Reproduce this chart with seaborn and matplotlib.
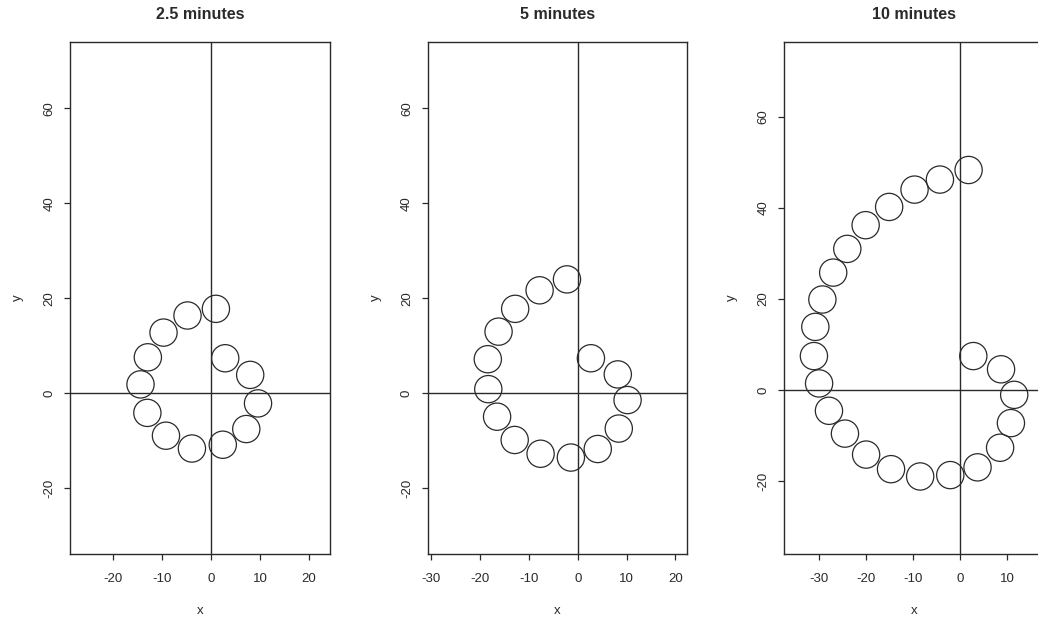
import numpy as np
import matplotlib
matplotlib.use("Agg")
import matplotlib.pyplot as plt
import seaborn as sns

# ---- data ----
titles = ["2.5 minutes", "5 minutes", "10 minutes"]

x_25 = [1.0, -4.8, -9.7, -12.9, -14.4, -13.0, -9.2, -3.9, 2.4, 7.2, 9.6, 8.0, 2.9]
y_25 = [17.8, 16.4, 12.8, 7.6, 1.9, -4.1, -8.9, -11.6, -10.8, -7.5, -2.1, 3.9, 7.4]

x_5 = [-2.2, -7.8, -12.8, -16.2, -18.4, -18.3, -16.5, -12.9, -7.6, -1.4, 4.1, 8.4, 10.2, 8.2, 2.7]
y_5 = [24.0, 21.7, 17.8, 13.0, 7.2, 0.9, -4.9, -9.8, -12.7, -13.5, -11.7, -7.4, -1.4, 4.0, 7.4]

x_10 = [1.8, -4.3, -9.7, -15.1, -20.1, -24.0, -27.0, -29.3, -30.8, -31.1, -30.0, -27.9,
        -24.5, -20.0, -14.7, -8.5, -2.1, 3.7, 8.5, 10.8, 11.5, 8.7, 2.8]
y_10 = [48.3, 46.2, 44.0, 40.2, 36.2, 31.0, 25.8, 19.9, 13.9, 7.5, 1.5, -4.5,
        -9.5, -14.1, -17.3, -18.9, -18.6, -16.9, -12.6, -7.2, -1.0, 4.6, 7.5]

x_ticks = [[-20, -10, 0, 10, 20], [-30, -20, -10, 0, 10, 20], [-30, -20, -10, 0, 10]]
y_ticks = [-20, 0, 20, 40, 60]

xs = [x_25, x_5, x_10]
ys = [y_25, y_5, y_10]
xlims = [(-28.8, 24.3), (-30.7, 22.3), (-37.4, 17.9)]
ylims = [(-33.8, 73.9), (-33.8, 73.9), (-35.9, 76.3)]

# ---- style ----
sns.set_style("white")
plt.rcParams["font.family"] = ["Liberation Sans", "DejaVu Sans"]
ink = "#2a2a2a"

fig = plt.figure(figsize=(10.38, 6.21), dpi=100)
W, H = 1038, 621
lefts = [70, 427.7, 784.3]
rights = [330, 686.7, 1044.3]
top, bottom = 42.3, 554

for i in range(3):
    ax = fig.add_axes([lefts[i] / W, 1 - bottom / H,
                       (rights[i] - lefts[i]) / W, (bottom - top) / H])
    ax.axhline(0, color=ink, lw=1.0, zorder=1)
    ax.axvline(0, color=ink, lw=1.0, zorder=1)
    sns.scatterplot(x=xs[i], y=ys[i], ax=ax, marker="o", s=385,
                    facecolor="none", edgecolor=ink, linewidth=0.9, zorder=3)
    ax.set_xlim(*xlims[i])
    ax.set_ylim(*ylims[i])
    ax.set_xticks(x_ticks[i])
    ax.set_yticks(y_ticks)
    ax.set_xticklabels([str(v) for v in x_ticks[i]])
    ax.set_yticklabels([str(v) for v in y_ticks], rotation=90, va="center")
    ax.tick_params(axis="both", direction="out", length=4.3, width=0.9,
                   color=ink, labelsize=9.5, labelcolor=ink, bottom=True, left=True)
    ax.tick_params(axis="x", pad=9.4)
    ax.tick_params(axis="y", pad=6.3)
    for sp in ax.spines.values():
        sp.set_visible(True)
        sp.set_color(ink)
        sp.set_linewidth(1.0)
    ax.set_xlabel("x", fontsize=9.5, color=ink, labelpad=14.5)
    ax.set_ylabel("y", fontsize=9.5, color=ink, labelpad=14)
    ax.set_title(titles[i], fontsize=11.5, fontweight="bold", color=ink, pad=16.5)

fig.savefig("out.png", dpi=100)
